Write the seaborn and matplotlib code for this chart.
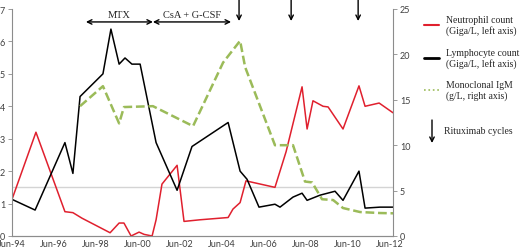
import numpy as np
import pandas as pd
import matplotlib
matplotlib.use("Agg")
import matplotlib.pyplot as plt
import seaborn as sns
from matplotlib.lines import Line2D

# ================= DATA =================
# x values are decimal years (Jun-94 = 1994.5)
neut_year = [1994.5, 1995.64, 1997.02, 1997.4, 1997.83, 1999.17, 1999.6, 1999.83,
             2000.17, 2000.55, 2000.79, 2001.17, 2001.36, 2001.64, 2002.36, 2002.69,
             2003.45, 2004.79, 2005.02, 2005.36, 2005.64, 2007.02, 2007.55, 2008.31,
             2008.55, 2008.83, 2009.31, 2009.55, 2010.26, 2011.02, 2011.31, 2011.98,
             2012.64]
neut_val = [1.13, 3.2, 0.75, 0.72, 0.55, 0.1, 0.4, 0.4,
            0.0, 0.12, 0.05, 0.0, 0.5, 1.6, 2.18, 0.45,
            0.5, 0.57, 0.83, 1.03, 1.7, 1.5, 2.6, 4.6,
            3.3, 4.17, 4.0, 3.98, 3.3, 4.63, 4.0, 4.1,
            3.8]

lymph_year = [1994.5, 1995.6, 1997.02, 1997.4, 1997.74, 1998.83, 1999.21, 1999.6,
              1999.88, 2000.21, 2000.6, 2001.36, 2002.36, 2003.07, 2004.79, 2005.36,
              2005.69, 2006.26, 2007.02, 2007.26, 2007.88, 2008.31, 2008.55, 2009.17,
              2009.88, 2010.26, 2011.02, 2011.31, 2012.02, 2012.64]
lymph_val = [1.13, 0.8, 2.88, 1.93, 4.3, 5.0, 6.38, 5.3,
             5.49, 5.3, 5.3, 2.88, 1.41, 2.76, 3.5, 2.0,
             1.75, 0.89, 0.98, 0.89, 1.2, 1.32, 1.1, 1.26,
             1.38, 1.1, 2.0, 0.86, 0.89, 0.89]

igm_year = [1997.74, 1998.83, 1999.6, 1999.83, 2001.21, 2003.12, 2004.55, 2005.36,
            2005.6, 2007.02, 2007.88, 2008.45, 2008.79, 2009.26, 2009.79, 2010.26,
            2011.07, 2012.02, 2012.64]
igm_val = [14.3, 16.5, 12.4, 14.2, 14.3, 12.1, 19.1, 21.5,
           18.6, 10.0, 10.0, 6.0, 5.9, 4.05, 3.96, 3.08,
           2.64, 2.53, 2.5]

rituximab_year = [2005.31, 2007.79, 2010.98]
tick_years = [1994.5, 1996.5, 1998.5, 2000.5, 2002.5, 2004.5, 2006.5, 2008.5, 2010.5, 2012.5]
tick_labels = ["Jun-94", "Jun-96", "Jun-98", "Jun-00", "Jun-02",
               "Jun-04", "Jun-06", "Jun-08", "Jun-10", "Jun-12"]
threshold = 1.5

df_neut = pd.DataFrame({"year": neut_year, "value": neut_val})
df_lymph = pd.DataFrame({"year": lymph_year, "value": lymph_val})
df_igm = pd.DataFrame({"year": igm_year, "value": igm_val})

# ================= PLOT =================
sns.set_style("white")
plt.rcParams['font.family'] = ['Lato', 'DejaVu Sans']

RED = "#e0202e"
GREEN = "#9bbb59"
AXCOL = "#8c8c8c"
serif = ['Liberation Serif', 'DejaVu Serif']

fig = plt.figure(figsize=(5.2, 2.51), dpi=100)
ax = fig.add_axes([12 / 520, 14 / 251, 381 / 520, 227 / 251])
ax2 = ax.twinx()

ax.axhline(threshold, color="#d4d4d4", lw=1.0, zorder=0)
sns.lineplot(data=df_neut, x="year", y="value", ax=ax, color=RED, lw=1.1)
sns.lineplot(data=df_lymph, x="year", y="value", ax=ax, color="black", lw=1.1)
sns.lineplot(data=df_igm, x="year", y="value", ax=ax2, color=GREEN, lw=1.8,
             dashes=False, linestyle=(0, (3.5, 1.5)))

ax.set_xlim(1994.5, 2012.64)
ax.set_ylim(0, 7)
ax2.set_ylim(0, 25)
ax.set_yticks(range(0, 8))
ax2.set_yticks(range(0, 26, 5))
ax.set_xticks(tick_years)
ax.set_xticklabels(tick_labels)
for a in (ax, ax2):
    a.set_xlabel("")
    a.set_ylabel("")
    a.spines["top"].set_visible(False)
    for s in ("left", "right", "bottom"):
        a.spines[s].set_color(AXCOL)
        a.spines[s].set_linewidth(0.8)
    a.tick_params(axis="y", labelsize=6.5, colors="#404040", length=3,
                  width=0.6, pad=2, color=AXCOL)
ax.tick_params(axis="x", labelsize=6.5, colors="#404040", length=2,
               width=0.6, pad=0.5, color=AXCOL)
ax2.spines["left"].set_visible(False)
ax.spines["right"].set_visible(False)

# treatment periods
arr_y = 0.943
for x0, x1, label in [(1998.02, 2001.21, "MTX"), (2001.21, 2004.93, "CsA + G-CSF")]:
    ax.annotate("", xy=(x0, arr_y), xytext=(x1, arr_y),
                xycoords=("data", "axes fraction"), textcoords=("data", "axes fraction"),
                arrowprops=dict(arrowstyle="<->", lw=1.0, color="black",
                                shrinkA=0, shrinkB=0, mutation_scale=8),
                annotation_clip=False)
    ax.text((x0 + x1) / 2, 0.975, label, transform=ax.get_xaxis_transform(),
            ha="center", va="center", fontsize=7.5, family=serif)

# rituximab cycles
for xr in rituximab_year:
    ax.annotate("", xy=(xr, 0.947), xytext=(xr, 1.05),
                xycoords=("data", "axes fraction"), textcoords=("data", "axes fraction"),
                arrowprops=dict(arrowstyle="->", lw=1.0, color="black",
                                shrinkA=0, shrinkB=0, mutation_scale=8),
                annotation_clip=False)

# legend
handles = [Line2D([], [], color=RED, lw=1.5),
           Line2D([], [], color="black", lw=2.0),
           Line2D([], [], color=GREEN, lw=1.2, linestyle=":")]
labels = ["Neutrophil count\n(Giga/L, left axis)",
          "Lymphocyte count\n(Giga/L, left axis)",
          "Monoclonal IgM\n(g/L, right axis)"]
fig.legend(handles, labels, loc="upper left", bbox_to_anchor=(424 / 520, 1 - 16 / 251),
           frameon=False, prop={"family": serif, "size": 7}, handlelength=1.55,
           handletextpad=0.75, labelspacing=1.25, borderpad=0, borderaxespad=0)
fig.patches.append(matplotlib.patches.FancyArrowPatch(
    (432 / 520, 1 - 121 / 251), (432 / 520, 1 - 144 / 251), transform=fig.transFigure,
    arrowstyle="->", mutation_scale=8, lw=1.0, color="black", shrinkA=0, shrinkB=0,
    figure=fig))
fig.text(444 / 520, 1 - 132 / 251, "Rituximab cycles", ha="left", va="center",
         fontsize=7, family=serif)

fig.savefig("out.png", dpi=100)
